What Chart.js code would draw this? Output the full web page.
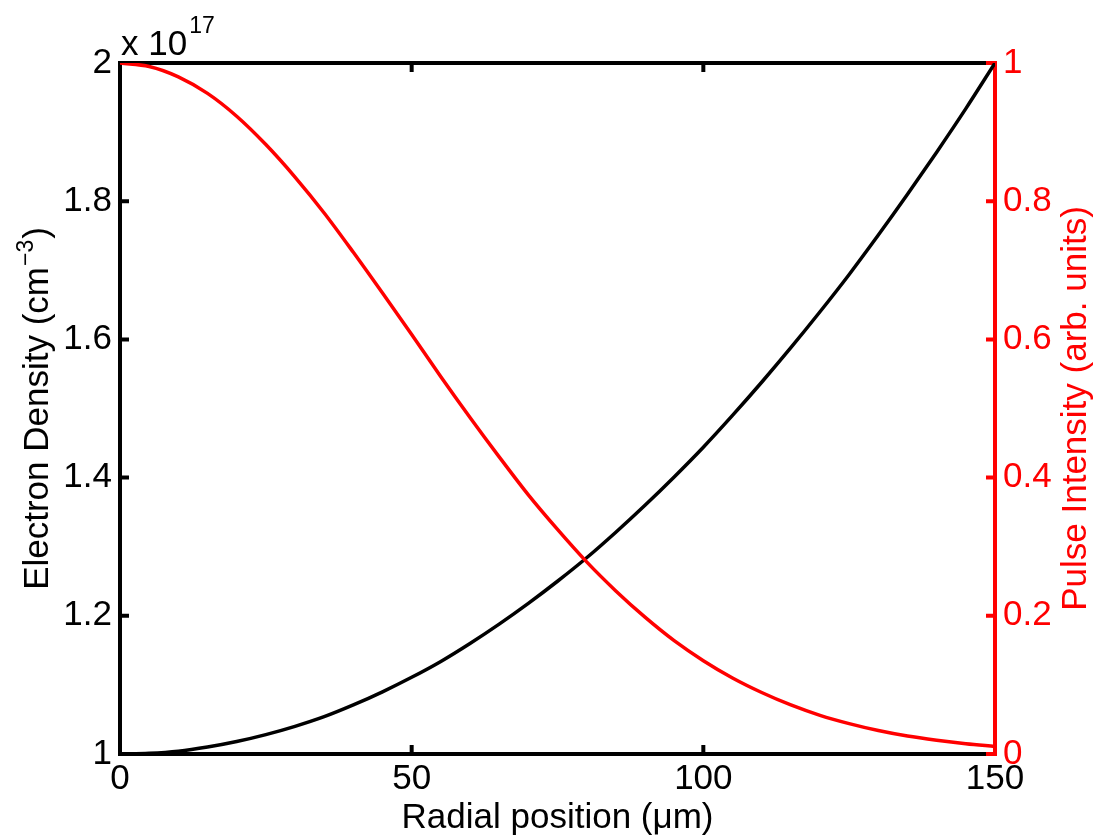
<!DOCTYPE html>
<html>
<head>
<meta charset="utf-8">
<title>Electron density and pulse intensity</title>
<script src="https://cdn.jsdelivr.net/npm/chart.js@4/dist/chart.umd.min.js"></script>
<style>
	html, body { margin: 0; padding: 0; background: #fff; }
	#wrap { width: 1097px; height: 838px; }
</style>
</head>
<body>
<div id="wrap"><canvas id="profileChart" width="1097" height="838"></canvas></div>
<script>
// radial position in um
const radius = [0, 5, 10, 15, 20, 25, 30, 35, 40, 45, 50, 55, 60, 65, 70, 75,
	80, 85, 90, 95, 100, 105, 110, 115, 120, 125, 130, 135, 140, 145, 150];
// electron density, in units of 1e17 cm^-3
const density = [1.000, 1.001, 1.004, 1.010, 1.018, 1.028, 1.040, 1.054, 1.071, 1.090,
	1.111, 1.134, 1.160, 1.188, 1.218, 1.250, 1.284, 1.321, 1.360, 1.401,
	1.444, 1.490, 1.538, 1.588, 1.640, 1.694, 1.751, 1.810, 1.871, 1.934, 2.000];
// pulse intensity, arb. units
const intensity = [1.000, 0.995, 0.980, 0.956, 0.923, 0.882, 0.835, 0.783, 0.726, 0.667,
	0.607, 0.546, 0.487, 0.430, 0.375, 0.325, 0.278, 0.236, 0.198, 0.164,
	0.135, 0.110, 0.089, 0.071, 0.056, 0.044, 0.034, 0.026, 0.020, 0.015, 0.011];

const xTicks = [0, 50, 100, 150];
const densityTicks = [1, 1.2, 1.4, 1.6, 1.8, 2];
const intensityTicks = [0, 0.2, 0.4, 0.6, 0.8, 1];

const FONT = 'Liberation Sans, Arial, Helvetica, sans-serif';
const RED = '#ff0000';
const BLACK = '#000000';
const SIZE = 35;

const fmt = v => String(parseFloat(Number(v).toFixed(1)));

// box, inward ticks and the axis titles (with superscripts)
const matlabAxes = {
	id: 'matlabAxes',
	beforeDatasetsDraw(chart) {
		const ctx = chart.ctx;
		const a = chart.chartArea;
		const x = chart.scales.x, y = chart.scales.y, y2 = chart.scales.y2;
		const tl = 9;
		ctx.save();
		ctx.lineWidth = 4;
		ctx.lineCap = 'butt';

		ctx.strokeStyle = BLACK;
		ctx.beginPath();
		ctx.moveTo(a.right, a.top); ctx.lineTo(a.left, a.top);
		ctx.lineTo(a.left, a.bottom); ctx.lineTo(a.right, a.bottom);
		xTicks.forEach(v => {
			const px = x.getPixelForValue(v);
			ctx.moveTo(px, a.bottom); ctx.lineTo(px, a.bottom - tl);
			ctx.moveTo(px, a.top); ctx.lineTo(px, a.top + tl);
		});
		densityTicks.forEach(v => {
			const py = y.getPixelForValue(v);
			ctx.moveTo(a.left, py); ctx.lineTo(a.left + tl, py);
		});
		ctx.stroke();

		ctx.strokeStyle = RED;
		ctx.beginPath();
		ctx.moveTo(a.right, a.top - 2); ctx.lineTo(a.right, a.bottom + 2);
		intensityTicks.forEach(v => {
			const py = y2.getPixelForValue(v);
			ctx.moveTo(a.right, py); ctx.lineTo(a.right - tl, py);
		});
		ctx.stroke();
		ctx.restore();
	},
	afterDraw(chart) {
		const ctx = chart.ctx;
		const a = chart.chartArea;
		const midX = (a.left + a.right) / 2;
		const midY = (a.top + a.bottom) / 2;
		const big = SIZE + 'px ' + FONT;
		const small = '23px ' + FONT;
		ctx.save();
		ctx.textBaseline = 'alphabetic';

		// x title
		ctx.fillStyle = BLACK;
		ctx.font = big;
		ctx.textAlign = 'center';
		ctx.fillText('Radial position (\u03bcm)', midX, 828);

		// exponent above the left axis
		ctx.textAlign = 'left';
		ctx.fillText('x 10', a.left + 1, 55);
		const w10 = ctx.measureText('x 10').width;
		ctx.font = small;
		ctx.fillText('17', a.left + 1 + w10 + 2, 33);

		// left title: Electron Density (cm^-3)
		ctx.font = big;
		const p1 = 'Electron Density (cm';
		const p3 = ')';
		const w1 = ctx.measureText(p1).width;
		const w3 = ctx.measureText(p3).width;
		ctx.font = small;
		const sup = '\u22123';
		const w2 = ctx.measureText(sup).width;
		const total = w1 + w2 + 2 + w3;
		ctx.translate(48, midY);
		ctx.rotate(-Math.PI / 2);
		let cx = -total / 2;
		ctx.font = big;
		ctx.fillText(p1, cx, 0);
		cx += w1 + 1;
		ctx.font = small;
		ctx.fillText(sup, cx, -15);
		cx += w2 + 1;
		ctx.font = big;
		ctx.fillText(p3, cx, 0);
		ctx.setTransform(1, 0, 0, 1, 0, 0);

		// right title
		ctx.fillStyle = RED;
		ctx.font = big;
		ctx.textAlign = 'center';
		ctx.translate(1086, midY);
		ctx.rotate(-Math.PI / 2);
		ctx.fillText('Pulse Intensity (arb. units)', 0, 0);
		ctx.restore();
	}
};

const ctx = document.getElementById('profileChart');

new Chart(ctx, {
	type: 'line',
	data: {
		labels: radius,
		datasets: [
			{
				label: 'Pulse Intensity',
				data: radius.map((r, i) => ({x: r, y: intensity[i]})),
				yAxisID: 'y2',
				borderColor: RED,
				borderWidth: 3.5,
				pointRadius: 0,
				cubicInterpolationMode: 'monotone',
				fill: false
			},
			{
				label: 'Electron Density',
				data: radius.map((r, i) => ({x: r, y: density[i]})),
				yAxisID: 'y',
				borderColor: BLACK,
				borderWidth: 3.5,
				pointRadius: 0,
				cubicInterpolationMode: 'monotone',
				fill: false
			}
		]
	},
	options: {
		responsive: false,
		animation: false,
		devicePixelRatio: 1,
		layout: { padding: { top: 63, left: 0, right: 0, bottom: 0 } },
		plugins: {
			legend: { display: false },
			tooltip: { enabled: false }
		},
		scales: {
			x: {
				type: 'linear',
				position: 'bottom',
				min: 0,
				max: 150,
				afterBuildTicks: s => { s.ticks = xTicks.map(v => ({value: v})); },
				afterFit: s => { s.height = 84; },
				grid: { display: false, drawTicks: false },
				border: { display: false },
				ticks: {
					color: BLACK,
					font: { family: FONT, size: SIZE },
					padding: 4,
					maxRotation: 0,
					callback: v => fmt(v)
				}
			},
			y: {
				type: 'linear',
				position: 'left',
				min: 1,
				max: 2,
				afterBuildTicks: s => { s.ticks = densityTicks.map(v => ({value: v})); },
				afterFit: s => { s.width = 120; },
				grid: { display: false, drawTicks: false },
				border: { display: false },
				ticks: {
					color: BLACK,
					font: { family: FONT, size: SIZE },
					padding: 8,
					callback: v => fmt(v)
				}
			},
			y2: {
				type: 'linear',
				position: 'right',
				min: 0,
				max: 1,
				afterBuildTicks: s => { s.ticks = intensityTicks.map(v => ({value: v})); },
				afterFit: s => { s.width = 102; },
				grid: { display: false, drawTicks: false },
				border: { display: false },
				ticks: {
					color: RED,
					font: { family: FONT, size: SIZE },
					padding: 8,
					callback: v => fmt(v)
				}
			}
		}
	},
	plugins: [matlabAxes]
});
</script>
</body>
</html>
